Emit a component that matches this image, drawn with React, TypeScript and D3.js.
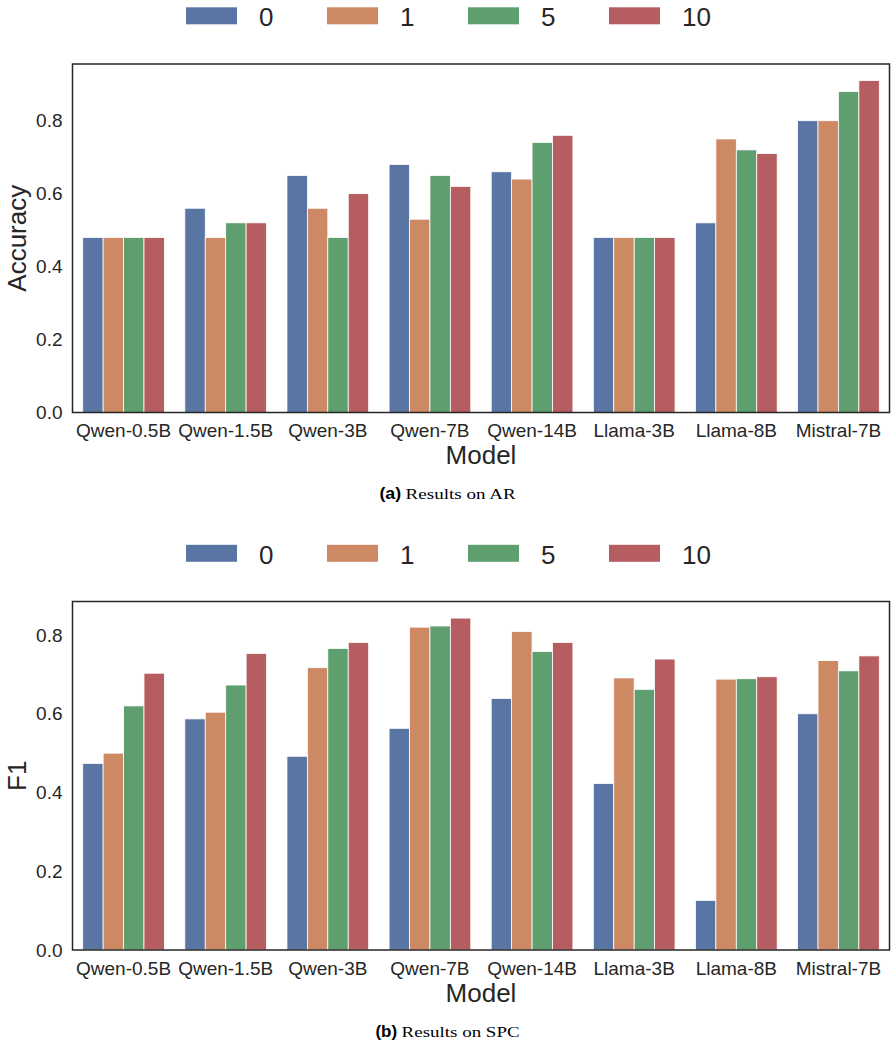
import React from 'react';
import * as d3 from 'd3';

const models = ['Qwen-0.5B', 'Qwen-1.5B', 'Qwen-3B', 'Qwen-7B', 'Qwen-14B', 'Llama-3B', 'Llama-8B', 'Mistral-7B'];
const shots = ['0', '1', '5', '10'];
const colors = ['#5975a4', '#cc8963', '#5f9e6e', '#b55d60'];

const arShot0 = [0.48, 0.56, 0.65, 0.68, 0.66, 0.48, 0.52, 0.80];
const arShot1 = [0.48, 0.48, 0.56, 0.53, 0.64, 0.48, 0.75, 0.80];
const arShot5 = [0.48, 0.52, 0.48, 0.65, 0.74, 0.48, 0.72, 0.88];
const arShot10 = [0.48, 0.52, 0.60, 0.62, 0.76, 0.48, 0.71, 0.91];

const spcShot0 = [0.474, 0.587, 0.492, 0.563, 0.639, 0.423, 0.126, 0.600];
const spcShot1 = [0.500, 0.604, 0.717, 0.820, 0.809, 0.691, 0.688, 0.735];
const spcShot5 = [0.620, 0.673, 0.766, 0.823, 0.758, 0.662, 0.689, 0.709];
const spcShot10 = [0.703, 0.753, 0.781, 0.843, 0.781, 0.739, 0.694, 0.747];

const yTicks = [0, 0.2, 0.4, 0.6, 0.8];

const panels = [
  { yLabel: 'Accuracy', series: [arShot0, arShot1, arShot5, arShot10], tag: '(a)', caption: 'Results on AR', capLen: 110, offset: 0 },
  { yLabel: 'F1', series: [spcShot0, spcShot1, spcShot5, spcShot10], tag: '(b)', caption: 'Results on SPC', capLen: 118, offset: 537.5 },
];

const W = 896;
const H = 1045;
const AX_L = 72.5;
const AX_R = 889.5;
const AX_T = 64;
const AX_B = 412.5;
const TXT = '#262626';
const SANS = '"Liberation Sans", Arial, sans-serif';
const SERIF = '"Liberation Serif", "Times New Roman", serif';
const TAG_W = 21.7;
const TAG_GAP = 4.5;
const CAP_CX = 447.5;

function Panel({ p }: { p: typeof panels[number] }) {
  const x = d3.scaleBand<string>().domain(models).range([AX_L, AX_R]).paddingInner(0.2).paddingOuter(0.1);
  const xi = d3.scaleBand<string>().domain(shots).range([0, x.bandwidth()]).padding(0);
  const maxV = d3.max(p.series.flat()) as number;
  const y = d3.scaleLinear().domain([0, maxV * 1.05]).range([AX_B, AX_T]);
  const legendX = d3.scaleOrdinal<string, number>().domain(shots).range(shots.map((_, i) => 186 + i * 141));
  const capX = CAP_CX - (TAG_W + TAG_GAP + p.capLen) / 2;
  return (
    <g transform={`translate(0,${p.offset})`}>
      {shots.map((s, i) => (
        <g key={s}>
          <rect x={legendX(s)} y={7.3} width={51} height={17} fill={colors[i]} />
          <text x={legendX(s)! + 73} y={26} fontSize={26} fill={TXT} fontFamily={SANS}>{s}</text>
        </g>
      ))}
      {p.series.map((vals, si) =>
        vals.map((v, mi) => (
          <rect
            key={`${si}-${mi}`}
            x={x(models[mi])! + xi(shots[si])!}
            y={y(v)}
            width={xi.bandwidth()}
            height={y(0) - y(v)}
            fill={colors[si]}
            stroke="#ffffff"
            strokeWidth={0.8}
          />
        ))
      )}
      <rect x={AX_L} y={AX_T} width={AX_R - AX_L} height={AX_B - AX_T} fill="none" stroke={TXT} strokeWidth={1.5} />
      {yTicks.map(t => (
        <text key={t} x={62.5} y={y(t)} dy="0.35em" textAnchor="end" fontSize={19} fill={TXT} fontFamily={SANS}>
          {t.toFixed(1)}
        </text>
      ))}
      {models.map(m => (
        <text key={m} x={x(m)! + x.bandwidth() / 2} y={AX_B + 24.5} textAnchor="middle" fontSize={19} fill={TXT} fontFamily={SANS}>
          {m}
        </text>
      ))}
      <text x={(AX_L + AX_R) / 2} y={AX_B + 51.5} textAnchor="middle" fontSize={26} fill={TXT} fontFamily={SANS}>Model</text>
      <text transform={`translate(26,${(AX_T + AX_B) / 2}) rotate(-90)`} textAnchor="middle" fontSize={26} fill={TXT} fontFamily={SANS}>
        {p.yLabel}
      </text>
      <text x={capX} y={499} fontSize={17} fontWeight="bold" fill="#000" fontFamily={SANS} textLength={TAG_W} lengthAdjust="spacingAndGlyphs">{p.tag}</text>
      <text x={capX + TAG_W + TAG_GAP} y={499} fontSize={15.5} fill="#000" fontFamily={SERIF} textLength={p.capLen} lengthAdjust="spacingAndGlyphs">
        {p.caption}
      </text>
    </g>
  );
}

export default function App() {
  return (
    <svg width={W} height={H} viewBox={`0 0 ${W} ${H}`} style={{ position: 'absolute', left: 0, top: 0, background: '#fff' }}>
      <rect x={0} y={0} width={W} height={H} fill="#fff" />
      {panels.map(p => (
        <Panel key={p.tag} p={p} />
      ))}
    </svg>
  );
}
